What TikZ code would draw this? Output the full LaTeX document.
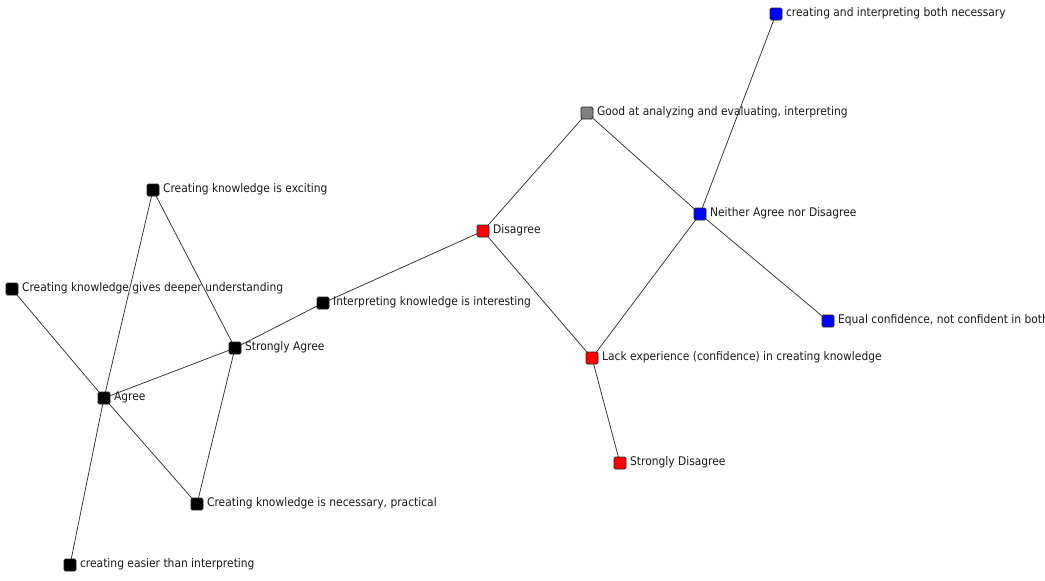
\documentclass[tikz,border=0pt]{standalone}
\usepackage{fontspec}
\setmainfont{DejaVu Sans Condensed}
\usetikzlibrary{backgrounds}
\definecolor{nblack}{HTML}{000000}
\definecolor{nred}{HTML}{FF0000}
\definecolor{nblue}{HTML}{0000FF}
\definecolor{ngray}{HTML}{808080}
\definecolor{edgecol}{HTML}{303030}
\tikzset{
  vertex/.style={draw=black!85, line width=0.8pt, rounded corners=1.5pt,
    minimum size=12pt, inner sep=0pt, fill=#1,
    label={[font=\fontsize{11.9}{13}\selectfont, text=black!90, inner sep=0pt, anchor=west, xshift=3.5pt, yshift=1pt]east:\vlabel}},
  link/.style={draw=edgecol, line width=0.75pt},
}
\newcommand{\vlabel}{}
\newcommand{\vtx}[5]{\renewcommand{\vlabel}{#5}\node[vertex=#1] (#2) at (#3,#4) {};}
\begin{document}
\begin{tikzpicture}[x=1pt,y=-1pt]
\useasboundingbox (0,0) rectangle (1045,581);
\clip (0,0) rectangle (1045,581);
% vertices
\vtx{nblue}{both}{776}{14}{creating and interpreting both necessary}
\vtx{ngray}{good}{587}{113}{Good at analyzing and evaluating, interpreting}
\vtx{nblue}{neither}{700}{214}{Neither Agree nor Disagree}
\vtx{nred}{disagree}{483}{231}{Disagree}
\vtx{nblue}{equal}{828}{321}{Equal confidence, not confident in both}
\vtx{nred}{lack}{592}{358}{Lack experience (confidence) in creating knowledge}
\vtx{nred}{sdis}{620}{463}{Strongly Disagree}
\vtx{nblack}{excit}{153}{190}{Creating knowledge is exciting}
\vtx{nblack}{deeper}{12}{289}{Creating knowledge gives deeper understanding}
\vtx{nblack}{interp}{323}{303}{Interpreting knowledge is interesting}
\vtx{nblack}{sagree}{235}{348}{Strongly Agree}
\vtx{nblack}{agree}{104}{398}{Agree}
\vtx{nblack}{necess}{197}{504}{Creating knowledge is necessary, practical}
\vtx{nblack}{easier}{70}{565}{creating easier than interpreting}
% connectors
\begin{scope}[on background layer]
\draw[link] (both.center) -- (neither.center);
\draw[link] (good.center) -- (neither.center);
\draw[link] (good.center) -- (disagree.center);
\draw[link] (neither.center) -- (lack.center);
\draw[link] (neither.center) -- (equal.center);
\draw[link] (disagree.center) -- (lack.center);
\draw[link] (disagree.center) -- (interp.center);
\draw[link] (lack.center) -- (sdis.center);
\draw[link] (interp.center) -- (sagree.center);
\draw[link] (excit.center) -- (sagree.center);
\draw[link] (excit.center) -- (agree.center);
\draw[link] (deeper.center) -- (agree.center);
\draw[link] (sagree.center) -- (agree.center);
\draw[link] (sagree.center) -- (necess.center);
\draw[link] (agree.center) -- (necess.center);
\draw[link] (agree.center) -- (easier.center);
\end{scope}
\end{tikzpicture}
\end{document}
